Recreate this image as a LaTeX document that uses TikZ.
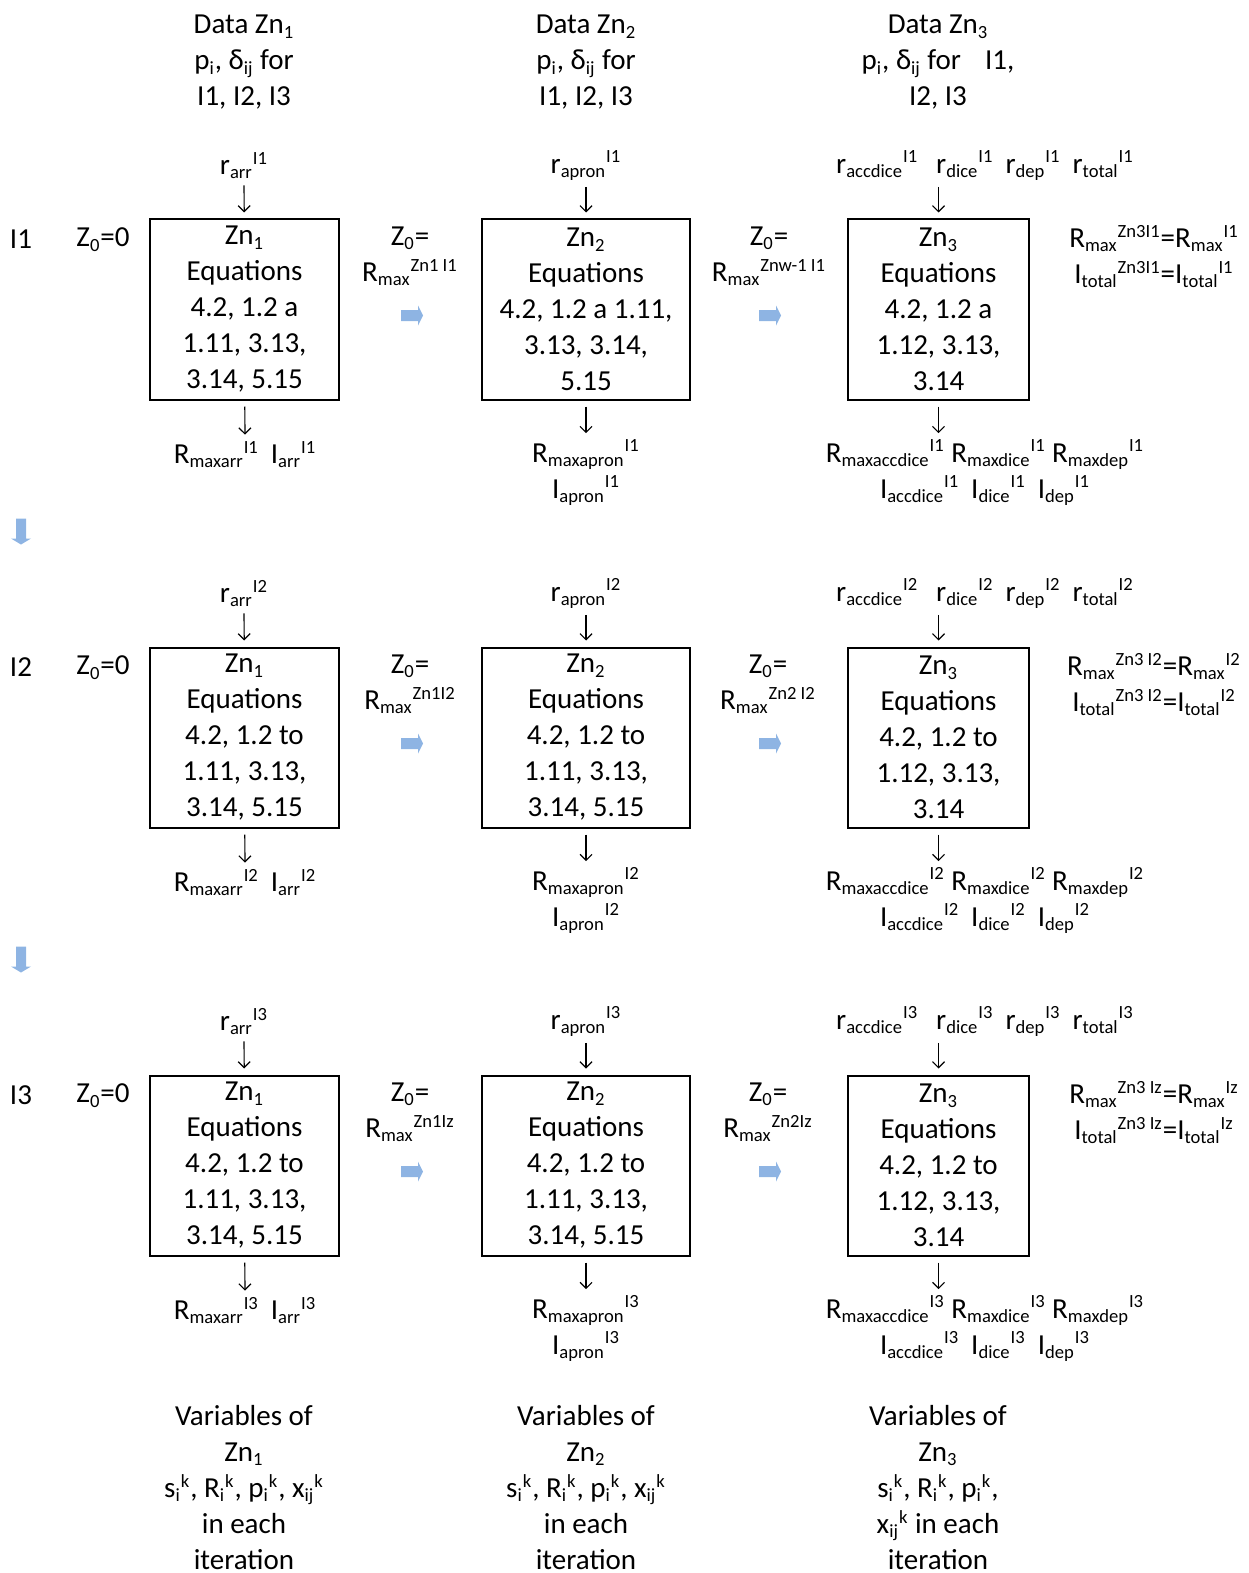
\documentclass[tikz,border=0pt]{standalone}
\usepackage{fontspec}
\setmainfont{Carlito}
\usetikzlibrary{arrows.meta}

\definecolor{arrowblue}{RGB}{142,180,227}
\newcommand{\sbx}[1]{\textsubscript{\fontsize{9.3}{9.3}\selectfont #1}}
\newcommand{\spx}[1]{\textsuperscript{\fontsize{9.3}{9.3}\selectfont #1}}

\tikzset{
  txt/.style={align=center, inner sep=0pt, font=\fontsize{14.5}{18}\selectfont},
  eqbox/.style={txt, draw, line width=1pt, minimum height=90pt},
  flow/.style={-{Straight Barb[length=3pt,width=6pt]}, line width=0.6pt,
    shorten <=3pt, shorten >=3pt},
}

\begin{document}
\begin{tikzpicture}[x=0.5pt, y=-0.5pt]
\useasboundingbox (0,0) rectangle (1248,1573);
\begin{scope}[yshift=-1.25pt, xshift=0.5pt]

% data of each zone
\node[txt] (h1) at (243,60) {Data Zn\sbx{1}\\p\sbx{i}, δ\sbx{ij} for\\I1, I2, I3};
\node[txt] (h2) at (585,60) {Data Zn\sbx{2}\\p\sbx{i}, δ\sbx{ij} for\\I1, I2, I3};
\node[txt] (h3) at (937,60) {Data Zn\sbx{3}\\p\sbx{i}, δ\sbx{ij} for\hspace{12pt}I1,\\I2, I3};

% iteration I1
\node[txt] (it1) at (20,237) {I1};
\node[txt] (zs1) at (102,237) {Z\sbx{0}=0};
\node[eqbox, minimum width=94.5pt] (b11) at (243.5,307) {Zn\sbx{1}\\Equations\\4.2, 1.2 a\\1.11, 3.13,\\3.14, 5.15};
\node[eqbox, minimum width=104pt] (b12) at (585,307) {Zn\sbx{2}\\Equations\\4.2, 1.2 a 1.11,\\3.13, 3.14,\\5.15};
\node[eqbox, minimum width=90.5pt] (b13) at (937.5,307) {Zn\sbx{3}\\Equations\\4.2, 1.2 a\\1.12, 3.13,\\3.14};
\node[txt] (t11) at (243,163) {r\sbx{arr}\spx{I1}};
\node[txt] (t12) at (585,163) {r\sbx{apron}\spx{I1}};
\node[txt] (t13) at (984,163) {r\sbx{accdice}\spx{I1}\hspace{9pt}r\sbx{dice}\spx{I1}\hspace{6pt}r\sbx{dep}\spx{I1}\hspace{6pt}r\sbx{total}\spx{I1}};
\node[txt] (o11) at (244,452) {R\sbx{maxarr}\spx{I1}\hspace{6pt}I\sbx{arr}\spx{I1}};
\node[txt] (o12) at (585,470) {R\sbx{maxapron}\spx{I1}\\I\sbx{apron}\spx{I1}};
\node[txt] (o13) at (984,470) {R\sbx{maxaccdice}\spx{I1} R\sbx{maxdice}\spx{I1} R\sbx{maxdep}\spx{I1}\\I\sbx{accdice}\spx{I1}\hspace{6pt}I\sbx{dice}\spx{I1}\hspace{6pt}I\sbx{dep}\spx{I1}};
\node[txt] (m11) at (409,254) {Z\sbx{0}=\\R\sbx{max}\spx{Zn1 I1}};
\node[txt] (m12) at (768,254) {Z\sbx{0}=\\R\sbx{max}\spx{Znw-1 I1}};
\node[txt] (eq1) at (1153,254) {R\sbx{max}\spx{Zn3I1}=R\sbx{max}\spx{I1}\\I\sbx{total}\spx{Zn3I1}=I\sbx{total}\spx{I1}};

\draw[flow] (t11) -- (b11);
\draw[flow] (t12) -- (b12);
\draw[flow] (t13.south -| b13.north) -- (b13);
\draw[flow] (b11) -- (o11);
\draw[flow] (b12) -- (o12);
\draw[flow] (b13) -- (b13.south |- o13.north);

% iteration I2
\node[txt] (it2) at (20,665) {I2};
\node[txt] (zs2) at (102,665) {Z\sbx{0}=0};
\node[eqbox, minimum width=94.5pt] (b21) at (243.5,735) {Zn\sbx{1}\\Equations\\4.2, 1.2 to\\1.11, 3.13,\\3.14, 5.15};
\node[eqbox, minimum width=104pt] (b22) at (585,735) {Zn\sbx{2}\\Equations\\4.2, 1.2 to\\1.11, 3.13,\\3.14, 5.15};
\node[eqbox, minimum width=90.5pt] (b23) at (937.5,735) {Zn\sbx{3}\\Equations\\4.2, 1.2 to\\1.12, 3.13,\\3.14};
\node[txt] (t21) at (243,591) {r\sbx{arr}\spx{I2}};
\node[txt] (t22) at (585,591) {r\sbx{apron}\spx{I2}};
\node[txt] (t23) at (984,591) {r\sbx{accdice}\spx{I2}\hspace{9pt}r\sbx{dice}\spx{I2}\hspace{6pt}r\sbx{dep}\spx{I2}\hspace{6pt}r\sbx{total}\spx{I2}};
\node[txt] (o21) at (244,880) {R\sbx{maxarr}\spx{I2}\hspace{6pt}I\sbx{arr}\spx{I2}};
\node[txt] (o22) at (585,898) {R\sbx{maxapron}\spx{I2}\\I\sbx{apron}\spx{I2}};
\node[txt] (o23) at (984,898) {R\sbx{maxaccdice}\spx{I2} R\sbx{maxdice}\spx{I2} R\sbx{maxdep}\spx{I2}\\I\sbx{accdice}\spx{I2}\hspace{6pt}I\sbx{dice}\spx{I2}\hspace{6pt}I\sbx{dep}\spx{I2}};
\node[txt] (m21) at (409,682) {Z\sbx{0}=\\R\sbx{max}\spx{Zn1I2}};
\node[txt] (m22) at (767,682) {Z\sbx{0}=\\R\sbx{max}\spx{Zn2 I2}};
\node[txt] (eq2) at (1153,682) {R\sbx{max}\spx{Zn3 I2}=R\sbx{max}\spx{I2}\\I\sbx{total}\spx{Zn3 I2}=I\sbx{total}\spx{I2}};

\draw[flow] (t21) -- (b21);
\draw[flow] (t22) -- (b22);
\draw[flow] (t23.south -| b23.north) -- (b23);
\draw[flow] (b21) -- (o21);
\draw[flow] (b22) -- (o22);
\draw[flow] (b23) -- (b23.south |- o23.north);

% iteration I3
\node[txt] (it3) at (20,1093) {I3};
\node[txt] (zs3) at (102,1093) {Z\sbx{0}=0};
\node[eqbox, minimum width=94.5pt] (b31) at (243.5,1163) {Zn\sbx{1}\\Equations\\4.2, 1.2 to\\1.11, 3.13,\\3.14, 5.15};
\node[eqbox, minimum width=104pt] (b32) at (585,1163) {Zn\sbx{2}\\Equations\\4.2, 1.2 to\\1.11, 3.13,\\3.14, 5.15};
\node[eqbox, minimum width=90.5pt] (b33) at (937.5,1163) {Zn\sbx{3}\\Equations\\4.2, 1.2 to\\1.12, 3.13,\\3.14};
\node[txt] (t31) at (243,1019) {r\sbx{arr}\spx{I3}};
\node[txt] (t32) at (585,1019) {r\sbx{apron}\spx{I3}};
\node[txt] (t33) at (984,1019) {r\sbx{accdice}\spx{I3}\hspace{9pt}r\sbx{dice}\spx{I3}\hspace{6pt}r\sbx{dep}\spx{I3}\hspace{6pt}r\sbx{total}\spx{I3}};
\node[txt] (o31) at (244,1308) {R\sbx{maxarr}\spx{I3}\hspace{6pt}I\sbx{arr}\spx{I3}};
\node[txt] (o32) at (585,1326) {R\sbx{maxapron}\spx{I3}\\I\sbx{apron}\spx{I3}};
\node[txt] (o33) at (984,1326) {R\sbx{maxaccdice}\spx{I3} R\sbx{maxdice}\spx{I3} R\sbx{maxdep}\spx{I3}\\I\sbx{accdice}\spx{I3}\hspace{6pt}I\sbx{dice}\spx{I3}\hspace{6pt}I\sbx{dep}\spx{I3}};
\node[txt] (m31) at (409,1110) {Z\sbx{0}=\\R\sbx{max}\spx{Zn1Iz}};
\node[txt] (m32) at (767,1110) {Z\sbx{0}=\\R\sbx{max}\spx{Zn2Iz}};
\node[txt] (eq3) at (1153,1110) {R\sbx{max}\spx{Zn3 Iz}=R\sbx{max}\spx{Iz}\\I\sbx{total}\spx{Zn3 Iz}=I\sbx{total}\spx{Iz}};

\draw[flow] (t31) -- (b31);
\draw[flow] (t32) -- (b32);
\draw[flow] (t33.south -| b33.north) -- (b33);
\draw[flow] (b31) -- (o31);
\draw[flow] (b32) -- (o32);
\draw[flow] (b33) -- (b33.south |- o33.north);

% block arrows
\foreach \x/\y in {400/313, 758/313, 400/741, 758/741, 400/1169, 758/1169}
  \fill[arrowblue] (\x,\y-5.5) -- ++(17,0) -- ++(0,-4.5) -- ++(5,10) -- ++(-5,10) -- ++(0,-4.5) -- ++(-17,0) -- cycle;
\foreach \y in {516,944}
  \fill[arrowblue] (15,\y) -- (25,\y) -- (25,\y+20) -- (30,\y+20) -- (20,\y+26) -- (10,\y+20) -- (15,\y+20) -- cycle;

% variables
\node[txt] (v1) at (243,1485) {Variables of\\Zn\sbx{1}\\s\sbx{i}\spx{k}, R\sbx{i}\spx{k}, p\sbx{i}\spx{k}, x\sbx{ij}\spx{k}\\in each\\iteration};
\node[txt] (v2) at (585,1485) {Variables of\\Zn\sbx{2}\\s\sbx{i}\spx{k}, R\sbx{i}\spx{k}, p\sbx{i}\spx{k}, x\sbx{ij}\spx{k}\\in each\\iteration};
\node[txt] (v3) at (937,1485) {Variables of\\Zn\sbx{3}\\s\sbx{i}\spx{k}, R\sbx{i}\spx{k}, p\sbx{i}\spx{k},\\x\sbx{ij}\spx{k} in each\\iteration};

\end{scope}
\end{tikzpicture}
\end{document}
